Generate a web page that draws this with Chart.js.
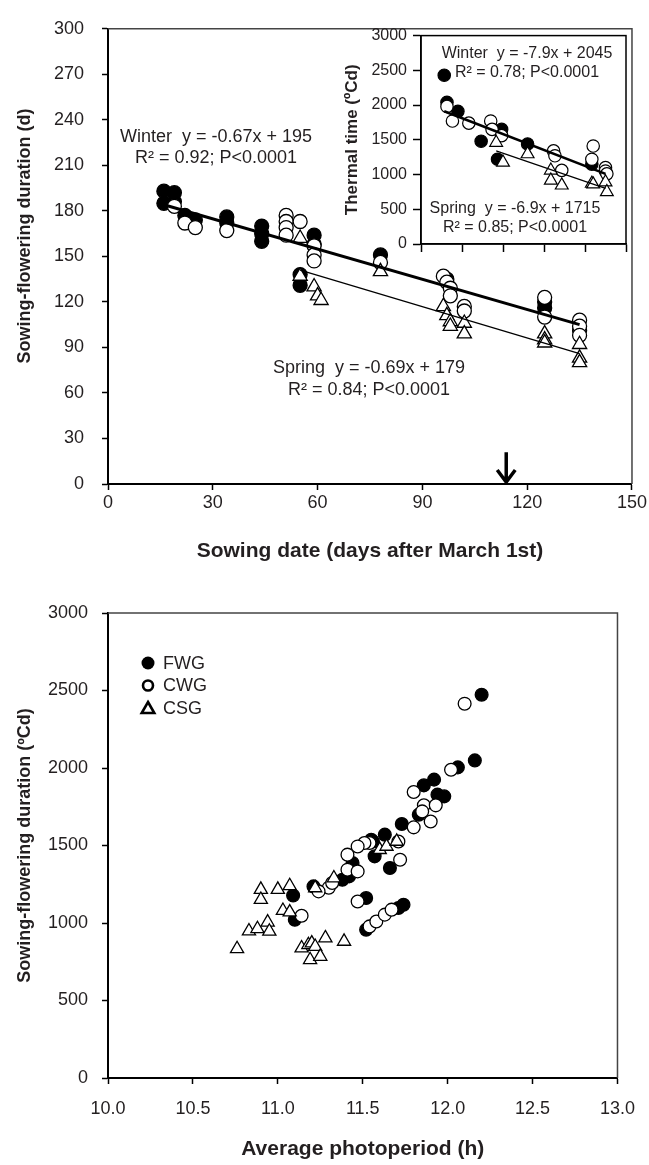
<!DOCTYPE html>
<html>
<head>
<meta charset="utf-8">
<script src="https://cdn.jsdelivr.net/npm/chart.js@4.4.1/dist/chart.umd.min.js"></script>
<style>
  body { margin: 0; background: #fff; }
  #wrap { position: relative; width: 649px; height: 1165px; background: #fff; }
  canvas { position: absolute; }
</style>
</head>
<body>
<div id="wrap">
  <canvas id="durChart" width="649" height="570" style="left:0;top:0"></canvas>
  <canvas id="ttChart" width="310" height="240" style="left:330px;top:20px"></canvas>
  <canvas id="photoChart" width="649" height="595" style="left:0;top:570px"></canvas>
</div>
<script>
// ---- top panel: sowing date (days after March 1st) vs sowing-flowering duration (d)
const fwgDur = [[16,193],[16,185],[19,192],[19,186],[22,177],[25,174],[34,176],[34,172],[44,170],[44,165],[44,160],
  [55,138],[55,131],[59,164],[59,158],[78,151],[97,135],[125,120],[125,116],[135,101]];
const cwgDur = [[19,183],[22,172],[25,169],[34,167],[51,177],[51,173],[51,169],[51,164],[55,173],[59,157],[59,151],
  [59,147],[78,146],[96,137],[97,133],[98,129],[98,124],[102,117],[102,114],[125,123],[125,110],[135,108],[135,104],[135,98]];
const csgDur = [[55,162],[55,137],[59,130],[60,124],[61,121],[78,140],[96,117],[97,111],[98,107],[98,104],[102,106],
  [102,99],[125,99],[125,95],[125,93],[135,92],[135,83],[135,80]];
const winterFit = [[16,184],[135,105]];
const springFit = [[55,141],[135,86]];
const arrowDay = 114;
const arrowTop = 21;

// ---- inset: thermal time (ºCd)
const fwgTT = [[17,2430],[19,2040],[27,1910],[44,1480],[56,1220],[59,1650],[78,1440],[125,1150],[135,1060]];
const cwgTT = [[19,1980],[23,1770],[35,1740],[51,1770],[52,1650],[59,1560],[97,1340],[98,1270],[103,1060],
  [126,1410],[125,1220],[135,1100],[135,1050],[136,1010]];
const csgTT = [[55,1460],[60,1175],[78,1295],[95,1060],[95,915],[103,845],[125,870],[126,860],[135,890],[136,750]];
const winterFitTT = [[17,1910],[135,1010]];
const springFitTT = [[55,1340],[135,800]];

// ---- bottom panel: average photoperiod (h) vs sowing-flowering duration (ºCd)
const fwgPhoto = [[12.20,2473],[12.16,2049],[12.06,2004],[11.92,1925],[11.86,1888],[11.94,1828],[11.98,1817],
  [11.83,1699],[11.73,1639],[11.63,1570],[11.56,1526],[11.66,1355],[11.55,1537],[11.57,1430],[11.44,1387],
  [11.38,1279],[11.42,1301],[11.21,1236],[11.09,1177],[11.10,1021],[11.52,1161],[11.71,1097],[11.74,1118],[11.52,957]];
const cwgPhoto = [[12.10,2415],[12.02,1989],[11.80,1845],[11.86,1759],[11.93,1759],[11.85,1720],[11.90,1655],
  [11.80,1617],[11.71,1526],[11.72,1408],[11.54,1516],[11.51,1516],[11.47,1494],[11.41,1441],[11.41,1344],
  [11.47,1333],[11.30,1228],[11.32,1258],[11.24,1204],[11.14,1047],[11.47,1139],[11.54,978],[11.58,1010],
  [11.63,1054],[11.67,1086]];
const csgPhoto = [[10.76,833],[10.83,948],[10.88,962],[10.94,1005],[10.95,946],[10.90,1216],[10.90,1151],
  [11.00,1216],[11.07,1240],[11.03,1080],[11.07,1070],[11.22,1226],[11.33,1290],[11.60,1473],[11.64,1494],
  [11.70,1526],[11.14,838],[11.18,859],[11.20,870],[11.22,848],[11.19,762],[11.25,784],[11.28,903],[11.39,881]];

const seriesNames = ['FWG', 'CWG', 'CSG'];

const FONT = "'Liberation Sans', Arial, Helvetica, sans-serif";
const INK = '#231f20';
Chart.defaults.font.family = FONT;
Chart.defaults.font.size = 18;
Chart.defaults.color = INK;

const pts = a => a.map(([x, y]) => ({ x, y }));

function markerSets(fwg, cwg, csg, r, bw) {
  return [
    { label: 'FWG', data: pts(fwg), pointStyle: 'circle', pointRadius: r, pointBorderWidth: bw,
      pointBackgroundColor: '#000', pointBorderColor: '#000', order: 3 },
    { label: 'CWG', data: pts(cwg), pointStyle: 'circle', pointRadius: r, pointBorderWidth: bw,
      pointBackgroundColor: '#fff', pointBorderColor: '#000', order: 2 },
    { label: 'CSG', data: pts(csg), pointStyle: 'triangle', pointRadius: r + 1.2, pointBorderWidth: bw,
      pointBackgroundColor: '#fff', pointBorderColor: '#000', order: 1 }
  ];
}

function fitLine(data, width) {
  return { type: 'line', data: pts(data), borderColor: '#000', borderWidth: width,
    pointRadius: 0, showLine: true, fill: false, order: 0 };
}

const tickGrid = len => ({ drawOnChartArea: false, drawTicks: true, tickLength: len, tickColor: '#000', tickWidth: 1.5 });

// frame lines round the plot area (top + right, or the full box)
function frame(color, width, full) {
  return {
    id: 'frame',
    beforeDatasetsDraw(chart) {
      const { ctx, chartArea: a } = chart;
      ctx.save();
      ctx.strokeStyle = color;
      ctx.lineWidth = width;
      ctx.beginPath();
      if (full) {
        ctx.strokeRect(a.left, a.top, a.right - a.left, a.bottom - a.top);
      } else {
        ctx.moveTo(a.left, a.top);
        ctx.lineTo(a.right, a.top);
        ctx.lineTo(a.right, a.bottom);
        ctx.stroke();
      }
      ctx.restore();
    }
  };
}

// free text (regression equations, offset axis title)
function notes(items) {
  return {
    id: 'notes',
    afterDraw(chart) {
      const ctx = chart.ctx;
      items.forEach(n => {
        ctx.save();
        ctx.fillStyle = INK;
        ctx.textAlign = 'center';
        ctx.textBaseline = 'middle';
        ctx.font = n.font;
        ctx.translate(n.x, n.y);
        if (n.rotate) ctx.rotate(n.rotate);
        ctx.fillText(n.text, 0, 0);
        ctx.restore();
      });
    }
  };
}

const arrow = {
  id: 'arrow',
  afterDatasetsDraw(chart) {
    const { ctx, scales } = chart;
    const x = scales.x.getPixelForValue(arrowDay);
    const y0 = scales.y.getPixelForValue(arrowTop);
    const y1 = scales.y.getPixelForValue(0) - 2;
    ctx.save();
    ctx.strokeStyle = '#000';
    ctx.lineWidth = 3.5;
    ctx.lineJoin = 'miter';
    ctx.beginPath();
    ctx.moveTo(x, y0);
    ctx.lineTo(x, y1);
    ctx.moveTo(x - 9, y1 - 12);
    ctx.lineTo(x, y1);
    ctx.lineTo(x + 9, y1 - 12);
    ctx.stroke();
    ctx.restore();
  }
};

const photoLegend = {
  id: 'photoLegend',
  afterDraw(chart) {
    const { ctx, chartArea: a } = chart;
    const mx = a.left + 40;
    ctx.save();
    seriesNames.forEach((name, i) => {
      const y = a.top + 50 + i * 22.5;
      ctx.beginPath();
      ctx.strokeStyle = '#000';
      if (i === 0) {
        ctx.fillStyle = '#000';
        ctx.arc(mx, y, 6.5, 0, Math.PI * 2);
        ctx.fill();
      } else if (i === 1) {
        ctx.lineWidth = 2.6;
        ctx.arc(mx, y, 5, 0, Math.PI * 2);
        ctx.stroke();
      } else {
        ctx.lineWidth = 2.6;
        ctx.moveTo(mx, y - 6);
        ctx.lineTo(mx + 6.3, y + 5);
        ctx.lineTo(mx - 6.3, y + 5);
        ctx.closePath();
        ctx.stroke();
      }
      ctx.fillStyle = INK;
      ctx.font = '18px ' + FONT;
      ctx.textAlign = 'left';
      ctx.textBaseline = 'middle';
      ctx.fillText(name, mx + 15, y + 1);
    });
    ctx.restore();
  }
};

// ---------- top chart
new Chart(document.getElementById('durChart'), {
  type: 'scatter',
  data: {
    datasets: [
      ...markerSets(fwgDur, cwgDur, csgDur, 7, 1.3),
      fitLine(winterFit, 3),
      fitLine(springFit, 1.3)
    ]
  },
  options: {
    responsive: false,
    animation: false,
    events: [],
    layout: { padding: { top: 20, right: 17, left: 0, bottom: 0 }, autoPadding: false },
    plugins: { legend: { display: false }, tooltip: { enabled: false } },
    scales: {
      x: {
        type: 'linear', min: 0, max: 150,
        ticks: { stepSize: 30, padding: 2, maxRotation: 0 },
        grid: tickGrid(6),
        border: { color: '#000', width: 2 },
        title: { display: true, text: 'Sowing date (days after March 1st)', font: { size: 21, weight: 'bold' }, padding: { top: 0, bottom: 6 } },
        afterFit(s) { s.height = 86; }
      },
      y: {
        min: 0, max: 300,
        ticks: { stepSize: 30, padding: 18 },
        grid: tickGrid(6),
        border: { color: '#000', width: 2 },
        afterFit(s) { s.width = 108; }
      }
    }
  },
  plugins: [
    frame('#444', 1.5, false),
    arrow,
    notes([
      { text: 'Sowing-flowering duration (d)', x: 25, y: 236, rotate: -Math.PI / 2, font: 'bold 18px ' + FONT },
      { text: 'Winter  y = -0.67x + 195', x: 216, y: 137, font: '18px ' + FONT },
      { text: 'R² = 0.92; P<0.0001', x: 216, y: 158, font: '18px ' + FONT },
      { text: 'Spring  y = -0.69x + 179', x: 369, y: 368, font: '18px ' + FONT },
      { text: 'R² = 0.84; P<0.0001', x: 369, y: 390, font: '18px ' + FONT }
    ])
  ]
});

// ---------- inset: thermal time
new Chart(document.getElementById('ttChart'), {
  type: 'scatter',
  data: {
    datasets: [
      ...markerSets(fwgTT, cwgTT, csgTT, 6.2, 1.2),
      fitLine(winterFitTT, 2.6),
      fitLine(springFitTT, 1.2)
    ]
  },
  options: {
    responsive: false,
    animation: false,
    events: [],
    layout: { padding: { top: 13, right: 14, left: 0, bottom: 0 }, autoPadding: false },
    plugins: { legend: { display: false }, tooltip: { enabled: false } },
    scales: {
      x: {
        type: 'linear', min: 0, max: 150,
        ticks: { stepSize: 30, display: false },
        grid: tickGrid(8),
        border: { color: '#000', width: 1.5 },
        afterFit(s) { s.height = 16; }
      },
      y: {
        min: 0, max: 3000,
        ticks: { stepSize: 500, padding: 6, font: { size: 16 }, callback: v => String(v) },
        grid: tickGrid(8),
        border: { color: '#000', width: 1.5 },
        title: { display: true, text: 'Thermal time (ºCd)', font: { size: 17, weight: 'bold' }, padding: { top: 12, bottom: 0 } },
        afterFit(s) { s.width = 91; }
      }
    }
  },
  plugins: [
    frame('#000', 1.5, true),
    notes([
      { text: 'Winter  y = -7.9x + 2045', x: 197, y: 34, font: '16px ' + FONT },
      { text: 'R² = 0.78; P<0.0001', x: 197, y: 53, font: '16px ' + FONT },
      { text: 'Spring  y = -6.9x + 1715', x: 185, y: 189, font: '16px ' + FONT },
      { text: 'R² = 0.85; P<0.0001', x: 185, y: 208, font: '16px ' + FONT }
    ])
  ]
});

// ---------- bottom chart: photoperiod
new Chart(document.getElementById('photoChart'), {
  type: 'scatter',
  data: { datasets: markerSets(fwgPhoto, cwgPhoto, csgPhoto, 6.4, 1.3) },
  options: {
    responsive: false,
    animation: false,
    events: [],
    layout: { padding: { top: 43, right: 16, left: 0, bottom: 0 }, autoPadding: false },
    plugins: { legend: { display: false }, tooltip: { enabled: false } },
    scales: {
      x: {
        type: 'linear', min: 10, max: 13,
        ticks: { stepSize: 0.5, padding: 14, maxRotation: 0, callback: v => Number(v).toFixed(1) },
        grid: tickGrid(6),
        border: { color: '#000', width: 2 },
        title: { display: true, text: 'Average photoperiod (h)', font: { size: 21, weight: 'bold' }, padding: { top: 0, bottom: 3 } },
        afterFit(s) { s.height = 87; }
      },
      y: {
        min: 0, max: 3000,
        ticks: { stepSize: 500, padding: 14, callback: v => String(v) },
        grid: tickGrid(6),
        border: { color: '#000', width: 2 },
        title: { display: true, text: 'Sowing-flowering duration (ºCd)', font: { size: 18, weight: 'bold' }, padding: { top: 14, bottom: 0 } },
        afterFit(s) { s.width = 108; }
      }
    }
  },
  plugins: [frame('#444', 1.5, false), photoLegend]
});
</script>
</body>
</html>
